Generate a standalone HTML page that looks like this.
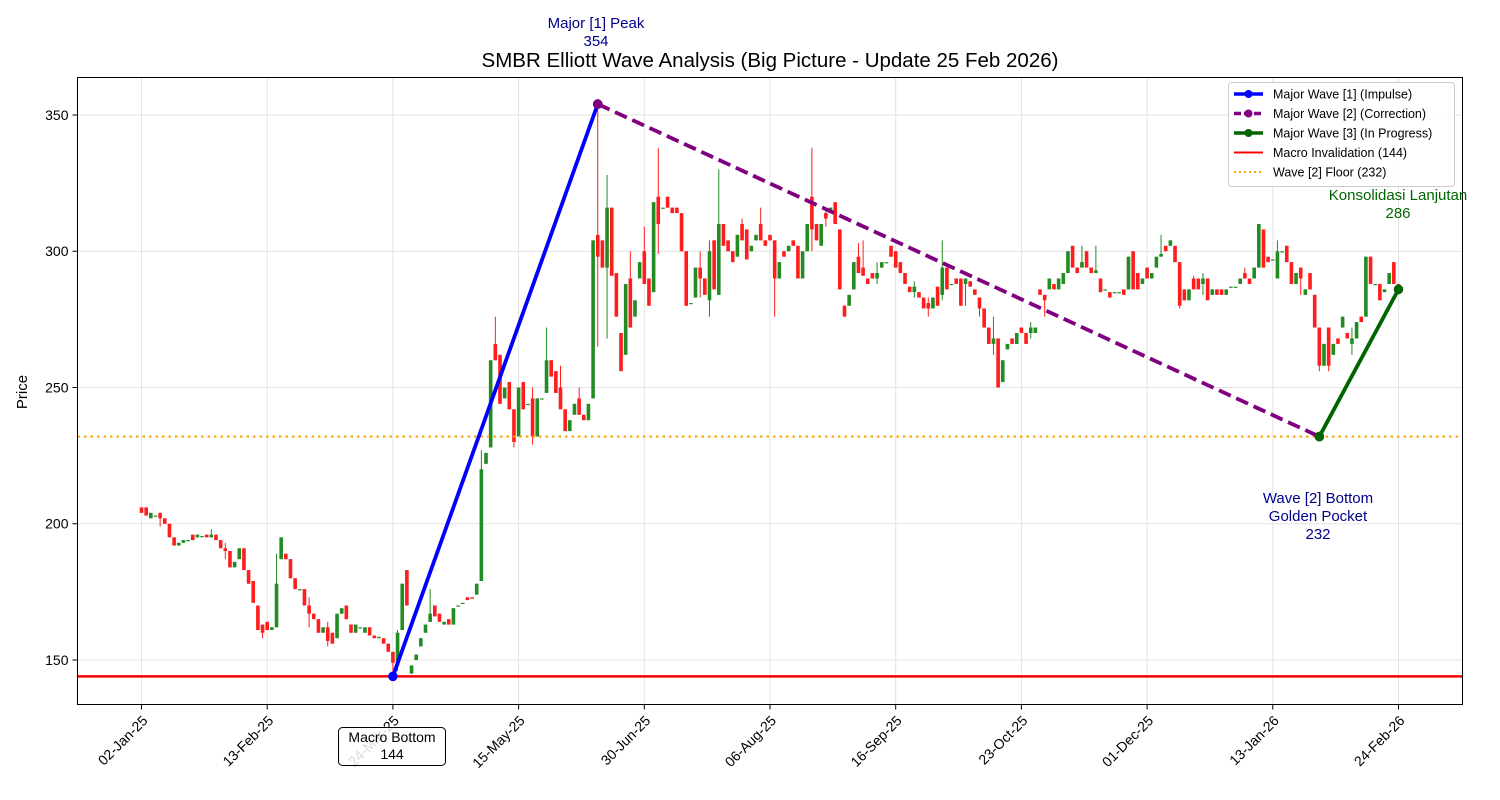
<!DOCTYPE html>
<html><head><meta charset="utf-8"><style>
html,body{margin:0;padding:0;background:#fff;}
svg{display:block;font-family:"Liberation Sans",sans-serif;}
</style></head><body>
<svg id="chart" width="1500" height="800" viewBox="0 0 1500 800" xmlns="http://www.w3.org/2000/svg">
<rect x="0" y="0" width="1500" height="800" fill="#fff"/>
<text x="770" y="67" text-anchor="middle" font-size="20.5" fill="#000">SMBR Elliott Wave Analysis (Big Picture - Update 25 Feb 2026)</text>
<text x="0" y="0" transform="translate(27,392) rotate(-90)" text-anchor="middle" font-size="15" fill="#000">Price</text>
<g id="grid"></g>
<g id="marks"></g>
<rect x="77.5" y="77.5" width="1385" height="627" fill="none" stroke="#000" stroke-width="1"/>
<g id="axes"></g>
<g id="annot"></g>
</svg>
<script>
const opens=[206,206,202,203,204,202,200,195,192,193,194,196,195,195.5,196,195,196,194,191,190,184,187,191,183,179,170,163,164,161,162,187,189,187,180,176,176,170,167,165,160,162,160,158,167,170,163,160,162,160,162,159,158,158,156,153,148,161,183,145,150,155,160,164,170,167,163,165,163,170,171,173,173,174,179,222,228,266,262,246,252,242,232,252,244,246,232,246,248,260,256,250,242,234,240,246,240,238,246,306,304,294,316,292,270,262,290,276,290,300,290,285,320,316,320,316,316,314,300,281,283,294,290,282,304,284,310,304,300,298,310,308,300,304,310,304,306,304,290,300,300,304,302,290,300,320,310,302,314,314,318,308,280,280,286,298,294,290,292,290,294,296,302,300,296,292,287,285,285,283,281,279,287,284,294,288,290,290,288,289,286,283,279,272,266,268,252,264,268,266,272,270,270,270,286,284,286,288,286,288,292,302,294,294,300,294,292,290,286,285,285,285,286,286,300,292,288,294,290,294,298,302,302,302,296,286,282,290,290,288,290,284,286,286,284,287,287,288,292,290,290,294,308,298,297,290,300,302,296,288,294,284,292,284,272,258,272,262,268,272,270,266,268,276,276,298,288,288,285,288,296,288];
const closes=[204,203,204,203,202,200,195,192,193,194,194,194,196,195.5,195,196,194,191,190,184,186,191,183,178,171,161,160,161,162,178,195,187,180,176,176,170,167,165,160,162,157,156,167,169,165,160,163,162,162,159,158,158.5,156,153,149,160,178,170,148,152,158,163,167,166,164,164,163,169,170,171,172,172.5,178,220,226,260,260,244,250,242,230,250,242,244,232,246,246,260,254,248,242,234,238,244,240,238,244,304,298,294,316,291,276,256,288,272,282,296,288,280,318,310,316,316,314,314,300,280,281,294,290,284,300,286,310,302,300,296,306,304,297,302,306,304,302,304,290,296,298,302,302,290,300,310,308,304,310,312,316,310,286,276,284,296,292,291,288,290,292,296,296,298,294,292,288,285,287,283,279,279,283,280,294,286,288,288,280,290,287,284,279,272,266,268,250,260,266,266,270,270,266,272,272,284,282,290,286,290,292,300,294,292,296,294,292,293,285,286,283,285,285,284,298,286,286,290,290,292,298,299,300,304,296,280,282,286,286,286,290,282,286,284,284,286,287,287,290,290,288,294,310,294,296,297,300,300,296,288,292,290,286,286,272,258,266,258,266,266,276,268,268,274,274,298,288,288,282,286,292,288,286];
const wickIdx=[4,15,18,26,29,36,40,54,55,62,73,76,80,84,87,90,94,98,100,105,108,111,120,122,124,129,133,136,144,147,154,155,158,166,169,172,177,180,183,184,191,194,202,205,219,223,226,228,237,244,249,253,255,260];
const wickHigh=[204,198,193,163,189,173,164,153,161,176,227,276,242,250,272,258,250,354,328,300,309,338,300,304,330,312,316,304,338,316,303,304,296,289,283,304,290,283,276,268,274,284,302,302,306,296,291,292,294,304,294,272,272,272];
const wickLow=[199,195,187,158,162,162,155,144,146,164,179,260,228,229,248,242,240,265,268,272,288,299,283,276,284,304,304,276,300,309,292,291,288,283,276,282,280,276,262,250,268,276,294,292,298,279,286,284,290,290,284,256,256,262];
const xTickIdx=[0,27,54,81,108,135,162,189,216,243,270];
const xTickLabels=["02-Jan-25","13-Feb-25","24-Mar-25","15-May-25","30-Jun-25","06-Aug-25","16-Sep-25","23-Oct-25","01-Dec-25","13-Jan-26","24-Feb-26"];
const yTicks=[150,200,250,300,350];
const wave1Idx=[54,98], wave1Val=[144,354];
const wave2Idx=[98,253], wave2Val=[354,232];
const wave3Idx=[253,270], wave3Val=[232,286];
const invalidation=144, floorLevel=232;

const NS="http://www.w3.org/2000/svg";
const L=77.5,R=1462.5,T=77.5,B=704.5;
const xMin=-13.75,xMax=283.75,yMin=133.67,yMax=363.76;
const xs=i=>L+(i-xMin)/(xMax-xMin)*(R-L);
const ys=v=>B-(v-yMin)/(yMax-yMin)*(B-T);
function mk(tag,attrs,parent){const e=document.createElementNS(NS,tag);for(const k in attrs)e.setAttribute(k,attrs[k]);parent.appendChild(e);return e;}
const grid=document.getElementById('grid'),marks=document.getElementById('marks'),axes=document.getElementById('axes'),annot=document.getElementById('annot');

xTickIdx.forEach((t,k)=>{
  const x=xs(t);
  const g=mk('line',{x1:x,x2:x,y1:T,y2:B,stroke:'#e3e3e3','stroke-width':1},grid);
  
  
  const tk=mk('line',{x1:x,x2:x,y1:B,y2:B+5,stroke:'#000','stroke-width':1},axes);
  
  
  const tx=mk('text',{x:0,y:0,transform:`translate(${x+7},${B+17}) rotate(-45)`,'text-anchor':'end','font-size':14,fill:'#000'},axes);
  tx.textContent=xTickLabels[k];
  
  
});
yTicks.forEach(v=>{
  const y=ys(v);
  const g=mk('line',{x1:L,x2:R,y1:y,y2:y,stroke:'#e3e3e3','stroke-width':1},grid);
  
  
  const tk=mk('line',{x1:L-5,x2:L,y1:y,y2:y,stroke:'#000','stroke-width':1},axes);
  
  
  const tx=mk('text',{x:L-9,y:y+5,'text-anchor':'end','font-size':14,fill:'#000'},axes);
  tx.textContent=v;
  
  
});

for(let i=0;i<opens.length;i++){
  const o=opens[i],c=closes[i];
  const up=c>=o;const col=up?'#228b22':'#ff1c1c';
  const w=wickIdx.indexOf(i);
  const hi=w>=0?Math.max(wickHigh[w],o,c):Math.max(o,c);
  const lo=w>=0?Math.min(wickLow[w],o,c):Math.min(o,c);
  const x=xs(i);
  const wk=mk('line',{x1:x,x2:x,y1:ys(hi),y2:ys(lo),stroke:col,'stroke-width':1},marks);
  
  
  const yt=ys(Math.max(o,c)),yb=ys(Math.min(o,c));
  const bd=mk('rect',{x:x-1.8,y:yt,width:3.6,height:Math.max(yb-yt,1.2),fill:col},marks);
  
  
}

const inv=mk('line',{x1:L,x2:R,y1:ys(invalidation),y2:ys(invalidation),stroke:'#ff0000','stroke-width':2.5},marks);


const fl=mk('line',{x1:L,x2:R,y1:ys(floorLevel),y2:ys(floorLevel),stroke:'#ffa500','stroke-width':2.2,'stroke-dasharray':'2.5,4'},marks);



function wave(idx,val,col,dash,name){
  const p=mk('polyline',{points:idx.map((t,k)=>xs(t)+','+ys(val[k])).join(' '),fill:'none',stroke:col,'stroke-width':3.8,'stroke-dasharray':dash||'none'},marks);
  
  
  idx.forEach((t,k)=>{
    const m=mk('circle',{cx:xs(t),cy:ys(val[k]),r:4.8,fill:col},marks);
    
    
  });
}
wave(wave1Idx,wave1Val,'#0000ff',null,'wave-1-line');
wave(wave2Idx,wave2Val,'#800080','13,6','wave-2-line');
wave(wave3Idx,wave3Val,'#006400',null,'wave-3-line');

function label(lines,cx,y0,col,size,name){
  const t=mk('text',{x:cx,y:y0,'text-anchor':'middle','font-size':size,fill:col},annot);
  
  
  lines.forEach((s,k)=>{const ts=mk('tspan',{x:cx,dy:k?size*1.2:0},t);ts.textContent=s;});
}
label(['Major [1] Peak',String(wave1Val[1])],596,28,'#00008b',15,'peak-annotation');
label(['Wave [2] Bottom','Golden Pocket',String(wave2Val[1])],1318,503,'#00008b',15,'wave2-bottom-annotation');
label(['Konsolidasi Lanjutan',String(wave3Val[1])],1398,200,'#006400',15,'konsolidasi-annotation');
const bx=mk('rect',{x:338.5,y:727.5,width:107,height:38,rx:4,fill:'#fff','fill-opacity':0.85,stroke:'#000','stroke-width':1},annot);


label(['Macro Bottom',String(wave1Val[0])],392,742,'#000',14,'macro-bottom-annotation');

const lg=mk('g',{},annot);


mk('rect',{x:1228.5,y:82.5,width:226,height:104,rx:3,fill:'#fff','fill-opacity':0.9,stroke:'#ccc'},lg);
const legItems=[['Major Wave [1] (Impulse)','#0000ff',null,true,3.5],['Major Wave [2] (Correction)','#800080','7,3',true,3.5],['Major Wave [3] (In Progress)','#006400',null,true,3.5],['Macro Invalidation (144)','#ff0000',null,false,2],['Wave [2] Floor (232)','#ffa500','2,3',false,2]];
legItems.forEach((it,k)=>{
  const y=94+k*19.5;
  const e=mk('g',{},lg);
  
  
  mk('line',{x1:1234,x2:1263,y1:y,y2:y,stroke:it[1],'stroke-width':it[4],'stroke-dasharray':it[2]||'none'},e);
  if(it[3])mk('circle',{cx:1248.5,cy:y,r:4,fill:it[1]},e);
  const t=mk('text',{x:1273,y:y+4.5,'font-size':12.5,fill:'#000'},e);
  t.textContent=it[0];
});
</script>
</body></html>
